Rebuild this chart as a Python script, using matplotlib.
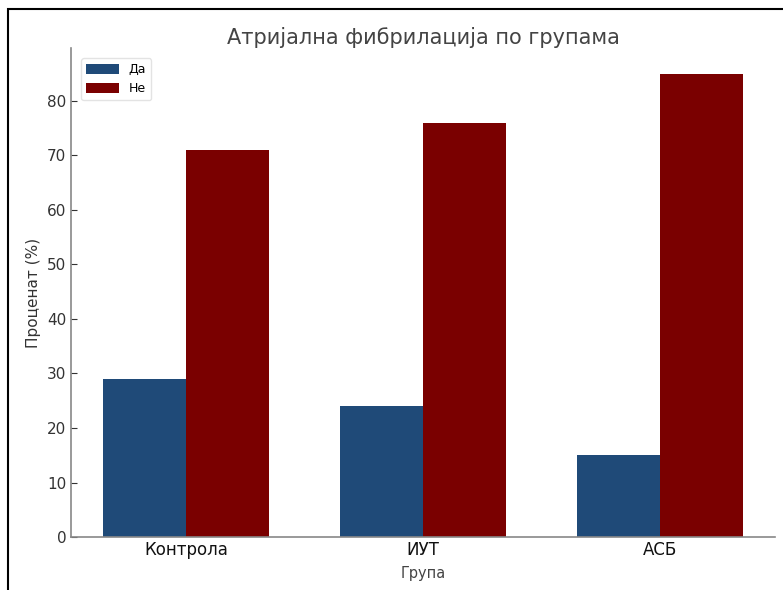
import matplotlib
matplotlib.use("Agg")
import matplotlib.pyplot as plt
import numpy as np
from matplotlib.patches import Rectangle

categories = ["Контрола", "ИУТ", "АСБ"]
da_values = [29, 24, 15]
ne_values = [71, 76, 85]
series_labels = ["Да", "Не"]

fig = plt.figure(figsize=(7.83, 5.90), dpi=100)
ax = fig.add_axes([0.0907, 0.0898, 0.8991, 0.8288])

x = np.arange(len(categories))
w = 0.35
ax.bar(x - w/2, da_values, w, color="#1f4a78", label=series_labels[0])
ax.bar(x + w/2, ne_values, w, color="#7a0000", label=series_labels[1])

ax.set_ylim(0, 89.7)
ax.set_xticks(x)
ax.set_xticklabels(categories, fontsize=12, color="#111111")
ax.set_yticks(range(0, 90, 10))
ax.tick_params(axis="y", direction="in", length=4, labelsize=11, colors="#333333")
ax.tick_params(axis="x", length=0, pad=3)
ax.set_ylabel("Проценат (%)", fontsize=11, color="#333333")
ax.set_xlabel("Група", fontsize=10.5, color="#444444", labelpad=5)
ax.set_title("Атријална фибрилација по групама", fontsize=15, color="#444444", pad=3)

for s in ["top", "right"]:
    ax.spines[s].set_visible(False)
for s in ["left", "bottom"]:
    ax.spines[s].set_color("#888888")
    ax.spines[s].set_linewidth(1.2)

ax.legend(loc="upper left", fontsize=9, frameon=True, edgecolor="#dddddd",
          handlelength=2.6, handleheight=0.9, borderaxespad=0.8)

fig.patches.append(Rectangle((8/783, -0.1), 1.2, (590-9)/590 + 0.1,
                             transform=fig.transFigure, fill=False,
                             edgecolor="black", linewidth=1.5))

fig.savefig("out.png", dpi=100)
